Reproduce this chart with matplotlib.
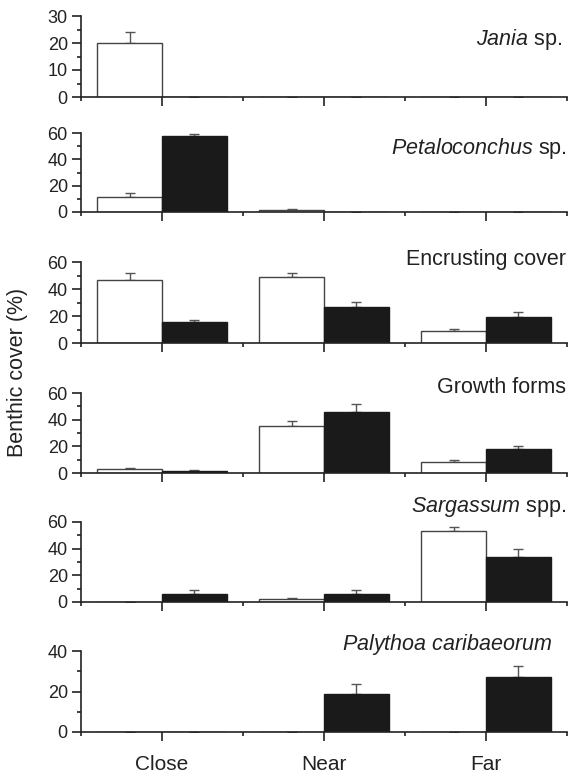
import numpy as np
import matplotlib
matplotlib.use("Agg")
import matplotlib.pyplot as plt
from matplotlib.ticker import MultipleLocator, FixedLocator

plt.rcParams['font.family'] = ['Liberation Sans', 'DejaVu Sans']
plt.rcParams['mathtext.fontset'] = 'custom'
plt.rcParams['mathtext.rm'] = 'Liberation Sans'
plt.rcParams['mathtext.it'] = 'Liberation Sans:italic'

# distance classes
groups = ["Close", "Near", "Far"]

# panel titles
titles = [r"$\it{Jania}$ sp.",
          r"$\it{Petaloconchus}$ sp.",
          "Encrusting cover",
          "Growth forms",
          r"$\it{Sargassum}$ spp.",
          r"$\it{Palythoa\ caribaeorum}$"]

# mean cover (%) and upper SE, white and black bars
jania_white = [20, 0, 0]
jania_white_err = [4, 0, 0]
jania_black = [0, 0, 0]
jania_black_err = [0, 0, 0]

petal_white = [11.6, 1.5, 0]
petal_white_err = [2.6, 1.0, 0]
petal_black = [57.5, 0, 0]
petal_black_err = [1.8, 0, 0]

encr_white = [47, 48.6, 8.8]
encr_white_err = [4.7, 3.4, 1.8]
encr_black = [15.2, 26.3, 19.6]
encr_black_err = [2.2, 4.2, 3.7]

growth_white = [2.8, 35.3, 8.0]
growth_white_err = [1.2, 4.0, 1.8]
growth_black = [1.5, 46, 18.3]
growth_black_err = [1.0, 6.0, 2.0]

sarg_white = [0, 2.0, 53]
sarg_white_err = [0, 1.2, 3.0]
sarg_black = [6.2, 6.2, 33.4]
sarg_black_err = [2.8, 2.8, 6.0]

paly_white = [0, 0, 0]
paly_white_err = [0, 0, 0]
paly_black = [0, 18.7, 27.1]
paly_black_err = [0, 4.8, 5.3]

panels = [
    (jania_white, jania_white_err, jania_black, jania_black_err),
    (petal_white, petal_white_err, petal_black, petal_black_err),
    (encr_white, encr_white_err, encr_black, encr_black_err),
    (growth_white, growth_white_err, growth_black, growth_black_err),
    (sarg_white, sarg_white_err, sarg_black, sarg_black_err),
    (paly_white, paly_white_err, paly_black, paly_black_err),
]

# y-axis top, major and minor tick steps per panel
ytops = [30, 60, 60, 60, 60, 40]
ymajor = [10, 20, 20, 20, 20, 20]

W, H = 573, 774
fig = plt.figure(figsize=(W / 100, H / 100), dpi=100)

# axes extents in pixels (top, bottom)
rows = [(16, 97), (133, 212), (262, 343), (393, 473), (522, 602), (651, 732)]
# title baselines in pixels (right x, baseline y)
title_pos = [(562, 45), (567, 154), (566, 265), (566, 393), (566, 512), (552, 650)]

x = np.arange(1, len(groups) + 1)
w = 0.4
edge = '#444444'


def masked(vals, errs):
    e = np.array(errs, dtype=float)
    v = np.array(vals, dtype=float)
    e[v == 0] = np.nan
    return e


for i, (top, bot) in enumerate(rows):
    ax = fig.add_axes([81 / W, 1 - bot / H, 486 / W, (bot - top) / H])
    wv, we, bv, be = panels[i]

    ax.bar(x - w / 2, wv, w, color='white', edgecolor=edge, linewidth=1.0, zorder=2)
    ax.bar(x + w / 2, bv, w, color='#1a1a1a', edgecolor='#1a1a1a', linewidth=1.0, zorder=2)
    ew = masked(wv, we)
    eb = masked(bv, be)
    ax.errorbar(x - w / 2, wv, yerr=[np.zeros(3), ew], fmt='none', ecolor='#555555',
                elinewidth=1.0, capsize=3.6, capthick=1.0, zorder=1)
    ax.errorbar(x + w / 2, bv, yerr=[np.zeros(3), eb], fmt='none', ecolor='#555555',
                elinewidth=1.0, capsize=3.6, capthick=1.0, zorder=1)

    ax.set_xlim(0.5, 3.5)
    ax.set_ylim(0, ytops[i])
    ax.yaxis.set_major_locator(MultipleLocator(ymajor[i]))
    ax.yaxis.set_minor_locator(MultipleLocator(ymajor[i] / 2))
    ax.xaxis.set_major_locator(FixedLocator(x))
    ax.xaxis.set_minor_locator(FixedLocator([0.5, 1.5, 2.5, 3.5]))

    for s in ['top', 'right']:
        ax.spines[s].set_visible(False)
    for s in ['left', 'bottom']:
        ax.spines[s].set_linewidth(1.2)
        ax.spines[s].set_color('#222222')

    ax.tick_params(axis='y', which='major', length=6.5, width=1.2, labelsize=13,
                   pad=3, colors='#222222')
    ax.tick_params(axis='y', which='minor', length=3, width=1.2, colors='#222222')
    ax.tick_params(axis='x', which='major', length=6.5, width=1.2, colors='#222222',
                   labelsize=15, pad=10)
    ax.tick_params(axis='x', which='minor', length=3, width=1.2, colors='#222222')

    if i == len(rows) - 1:
        ax.set_xticklabels(groups)
    else:
        ax.set_xticklabels([])

    tx, ty = title_pos[i]
    fig.text(tx / W, 1 - ty / H, titles[i], ha='right', va='baseline',
             fontsize=15.5, color='#222222')

fig.text(18 / W, 1 - 372 / H, "Benthic cover (%)", rotation=90, ha='center',
         va='center', fontsize=15.5, color='#222222')

fig.savefig("out.png", dpi=100)
